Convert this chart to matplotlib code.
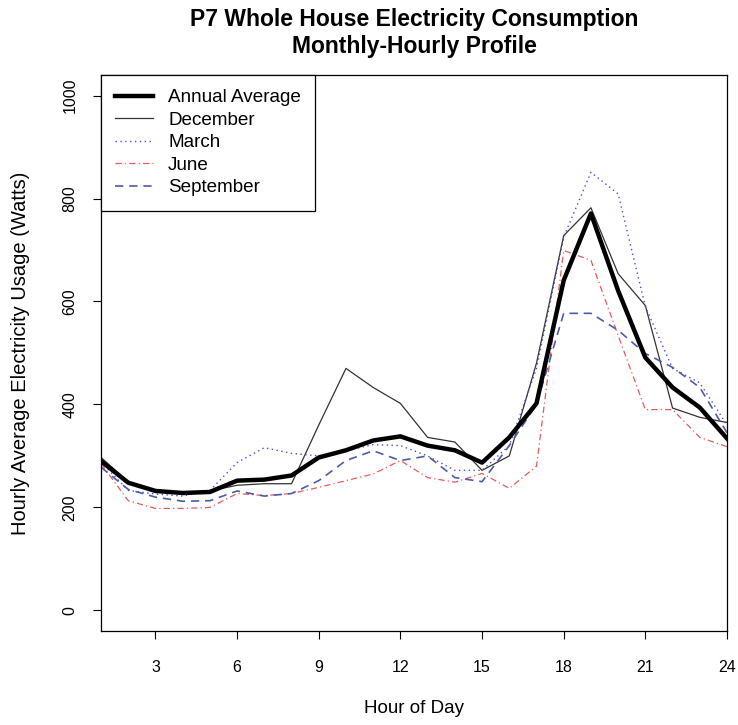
import matplotlib
matplotlib.use("Agg")
import matplotlib.pyplot as plt

# hour of day
hours = list(range(1, 25))

# hourly average usage (watts)
annual = [290, 248, 232, 228, 230, 252, 254, 262, 297, 311, 330, 338,
          320, 311, 287, 336, 402, 641, 771, 621, 491, 433, 394, 334]
december = [297, 250, 232, 228, 232, 243, 246, 246, 360, 470, 433, 402,
            336, 327, 272, 300, 480, 728, 782, 654, 592, 393, 375, 365]
march = [288, 233, 226, 222, 233, 287, 316, 305, 300, 310, 322, 320,
         300, 272, 272, 320, 470, 725, 851, 809, 590, 470, 442, 360]
june = [285, 213, 198, 198, 200, 227, 223, 227, 239, 252, 265, 291,
        258, 249, 266, 237, 280, 699, 680, 534, 390, 390, 336, 318]
september = [278, 235, 220, 212, 213, 232, 222, 227, 252, 291, 310, 291,
             300, 258, 250, 320, 400, 577, 577, 544, 499, 472, 433, 345]

xticks = [3, 6, 9, 12, 15, 18, 21, 24]
yticks = [0, 200, 400, 600, 800, 1000]

plt.rcParams['font.family'] = ['Liberation Sans', 'DejaVu Sans']

fig = plt.figure(figsize=(7.38, 7.25), dpi=100)
ax = fig.add_axes([0.1369, 0.1297, 0.8482, 0.7669])

ax.plot(hours, annual, color='black', lw=3.2, label='Annual Average',
        solid_joinstyle='round', zorder=5)
ax.plot(hours, december, color='#333333', lw=0.9, label='December')
ax.plot(hours, march, color='#4a4ae0', lw=1.0, dashes=(1, 2.5), label='March')
ax.plot(hours, june, color='#e85a5a', lw=0.9, dashes=(5, 2.5, 1, 2.5), label='June')
ax.plot(hours, september, color='#4d5ca8', lw=1.2, dashes=(5, 3.5), label='September')

ax.set_xlim(1, 24)
ax.set_ylim(-40, 1040)
ax.set_xticks(xticks)
ax.set_yticks(yticks)
ax.tick_params(direction='out', length=6, width=0.8, labelsize=11.5)
ax.tick_params(axis='x', pad=15)
ax.tick_params(axis='y', pad=11)
for lab in ax.get_yticklabels():
    lab.set_rotation(90)
    lab.set_va('center')

for s in ax.spines.values():
    s.set_linewidth(0.9)

ax.set_xlabel('Hour of Day', fontsize=13.5, labelpad=18)
ax.set_ylabel('Hourly Average Electricity Usage (Watts)', fontsize=14.5, labelpad=23)
ax.set_title('P7 Whole House Electricity Consumption\nMonthly-Hourly Profile',
             fontsize=16.5, fontweight='bold', pad=16, linespacing=1.2)

leg = ax.legend(loc='upper left', borderaxespad=0, fancybox=False,
                edgecolor='black', fontsize=13.6, handlelength=2.0,
                handletextpad=0.8, labelspacing=0.28, borderpad=0.75,
                framealpha=1)
leg.get_frame().set_linewidth(0.9)

fig.savefig('out.png', dpi=100)
